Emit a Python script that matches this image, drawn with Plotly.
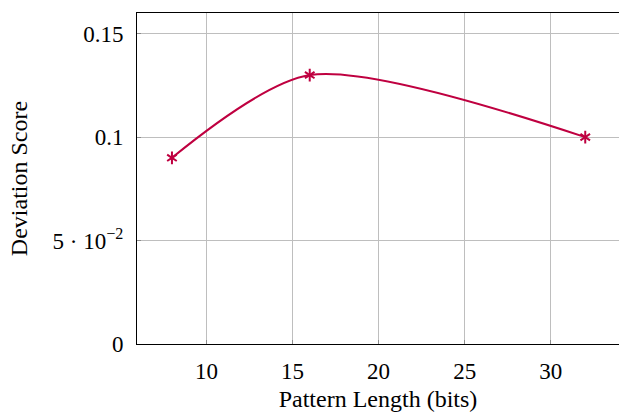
import plotly.graph_objects as go

pattern_length = [8, 16, 32]
deviation_score = [0.09, 0.13, 0.10]

x_ticks = [10, 15, 20, 25, 30]
y_ticks = [0, 0.05, 0.1, 0.15]
y_tick_labels = ["0", "5 · 10<sup>−2</sup>", "0.1", "0.15"]

color = "rgb(191,0,64)"

fig = go.Figure()
fig.add_trace(go.Scatter(
    x=pattern_length, y=deviation_score,
    mode="lines",
    line=dict(color=color, width=2, shape="spline", smoothing=0.8),
    showlegend=False, hoverinfo="skip",
))
# pgfplots-style six-armed asterisk = two overlaid "Y" marks
for sym in ["y-up-open", "y-down-open"]:
    fig.add_trace(go.Scatter(
        x=pattern_length, y=deviation_score,
        mode="markers",
        marker=dict(symbol=sym, size=8, color=color,
                    line=dict(color=color, width=2)),
        showlegend=False,
    ))

tick_font = dict(family="Liberation Serif, Times New Roman, serif", size=23, color="black")
title_font = dict(family="Liberation Serif, Times New Roman, serif", size=24, color="black")

fig.update_layout(
    width=619, height=412,
    margin=dict(l=137, r=0, t=13, b=66),
    paper_bgcolor="white", plot_bgcolor="white",
    xaxis=dict(
        range=[5.97, 33.96], tickvals=x_ticks,
        showgrid=True, gridcolor="rgb(190,190,190)", gridwidth=1,
        showline=True, linecolor="black", linewidth=1, mirror=True,
        ticks="inside", ticklen=4, tickcolor="rgb(140,140,140)",
        tickfont=tick_font, zeroline=False, ticklabelstandoff=6,
        title=dict(text="Pattern Length (bits)", font=title_font, standoff=12),
    ),
    yaxis=dict(
        range=[0, 0.16], tickvals=y_ticks, ticktext=y_tick_labels,
        showgrid=True, gridcolor="rgb(190,190,190)", gridwidth=1,
        showline=True, linecolor="black", linewidth=1, mirror=False,
        ticks="inside", ticklen=4, tickcolor="rgb(140,140,140)",
        tickfont=tick_font, zeroline=False, ticklabelstandoff=8,
        title=dict(text="Deviation Score", font=title_font, standoff=18),
    ),
)

fig.write_html("out.html",
               config={"displayModeBar": False},
               post_script="document.body.style.margin='0';document.body.style.padding='0';document.body.style.overflow='hidden';")
